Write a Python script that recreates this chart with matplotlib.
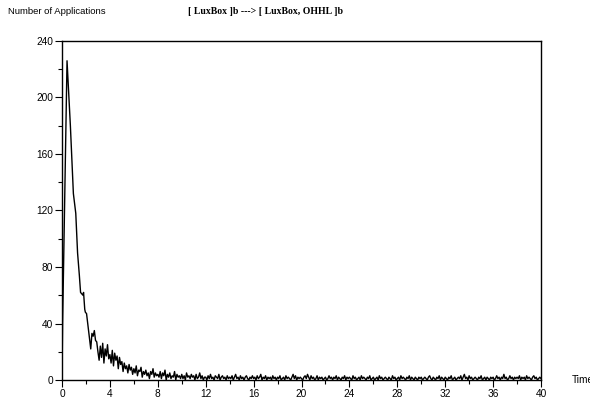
import numpy as np
import matplotlib
matplotlib.use("Agg")
import matplotlib.pyplot as plt
from matplotlib.ticker import MultipleLocator

# Early part of the curve (explicit times and values)
t_early = [0.0, 0.05, 0.42, 0.7, 0.95, 1.15, 1.3, 1.45, 1.55, 1.65, 1.75, 1.8,
           1.9, 1.95, 2.05, 2.15, 2.3, 2.4, 2.5, 2.6, 2.7, 2.8, 2.9]
y_early = [0, 40, 226, 180, 132, 118, 90, 74, 62, 61, 60, 62,
           50, 48, 47, 40, 30, 22, 33, 31, 35, 28, 27]

# Tail values sampled every 0.1 from t=3.0 to t=40.0
tail_start = 3.0
tail_step = 0.1
y_tail = [
    20, 14, 24, 16, 26, 12, 22, 17, 25, 15,
    18, 12, 21, 10, 19, 14, 17, 8, 16, 11,
    13, 6, 12, 8, 10, 5, 11, 7, 9, 4,
    8, 5, 10, 3, 7, 6, 9, 2, 6, 4,
    7, 3, 5, 1, 6, 4, 8, 2, 5, 3,
    4, 2, 6, 1, 5, 3, 7, 0, 4, 2,
    5, 1, 3, 2, 6, 0, 4, 2, 3, 1,
    4, 1, 3, 0, 5, 2, 3, 1, 4, 2, 3, 0, 4, 1, 2, 5, 1, 3, 0, 2,
    2, 0, 3, 1, 4, 1, 2, 0, 3, 2, 1, 4, 0, 2, 3, 1, 2, 0, 3, 1,
    2, 1, 3, 0, 2, 4, 1, 2, 0, 3, 1, 2, 0, 2, 3, 1, 0, 2, 1, 3,
    1, 2, 0, 3, 1, 2, 4, 0, 2, 1, 3, 0, 2, 1, 2, 0, 3, 1, 2, 0,
    2, 1, 3, 0, 1, 2, 0, 3, 1, 2, 1, 0, 2, 4, 1, 3, 0, 2, 1, 2,
    1, 0, 2, 3, 1, 4, 2, 0, 3, 1, 2, 0, 1, 3, 0, 2, 1, 2, 0, 1,
    2, 0, 1, 3, 1, 2, 0, 2, 1, 3, 0, 2, 1, 0, 2, 1, 3, 0, 2, 1,
    2, 1, 0, 3, 1, 2, 0, 1, 2, 0, 3, 1, 2, 1, 0, 2, 1, 3, 0, 1,
    2, 0, 1, 2, 0, 3, 1, 2, 0, 1, 2, 1, 0, 2, 1, 0, 3, 1, 2, 0,
    1, 2, 0, 3, 1, 2, 1, 0, 2, 1, 3, 0, 2, 1, 0, 2, 1, 0, 2, 1,
    2, 0, 1, 2, 1, 0, 2, 3, 1, 0, 2, 1, 0, 2, 1, 3, 0, 2, 1, 0,
    2, 1, 0, 2, 1, 3, 0, 1, 2, 0, 1, 2, 1, 3, 0, 2, 4, 1, 2, 0,
    3, 1, 2, 0, 1, 2, 1, 0, 2, 1, 3, 0, 1, 2, 0, 2, 1, 0, 2, 1,
    2, 0, 1, 3, 1, 2, 0, 2, 1, 4, 1, 2, 0, 1, 3, 1, 2, 0, 2, 1,
    2, 1, 3, 0, 2, 1, 2, 0, 3, 1, 2, 1, 0, 2, 3, 1, 2, 0, 1, 2, 1,
]

x_ticks = [0, 4, 8, 12, 16, 20, 24, 28, 32, 36, 40]
y_ticks = [0, 40, 80, 120, 160, 200, 240]

title = "[ LuxBox ]b ---> [ LuxBox, OHHL ]b"
ylabel = "Number of Applications"
xlabel = "Time"

t_tail = np.round(tail_start + tail_step * np.arange(len(y_tail)), 2)
t = np.concatenate([t_early, t_tail])
y = np.concatenate([y_early, y_tail])

sans = ["Liberation Sans", "DejaVu Sans"]
fig = plt.figure(figsize=(5.9, 4.0), dpi=100)
ax = fig.add_axes([62 / 590, 1 - 380 / 400, (541 - 62) / 590, (380 - 41) / 400])
ax.plot(t, y, color="black", linewidth=1.0)
ax.set_xlim(0, 40)
ax.set_ylim(0, 240)
ax.set_xticks(x_ticks)
ax.set_yticks(y_ticks)
ax.xaxis.set_minor_locator(MultipleLocator(2))
ax.yaxis.set_minor_locator(MultipleLocator(20))
ax.tick_params(which="both", direction="out", top=False, right=False, width=0.8)
ax.tick_params(which="major", length=5, labelsize=7.3, pad=1.5)
ax.tick_params(which="minor", length=3)
for lbl in ax.get_xticklabels() + ax.get_yticklabels():
    lbl.set_family(sans)
for s in ax.spines.values():
    s.set_linewidth(1.0)

fig.text(8 / 590, 1 - 12 / 400, ylabel, family=sans, fontsize=6.8, va="center", ha="left")
fig.text(266 / 590, 1 - 12 / 400, title, family=["Liberation Serif", "DejaVu Serif"],
         fontsize=7.0, fontweight="bold", va="center", ha="center")
fig.text(572 / 590, 1 - 380 / 400, xlabel, family=sans, fontsize=7.3, va="center", ha="left")

fig.savefig("out.png", dpi=100)
